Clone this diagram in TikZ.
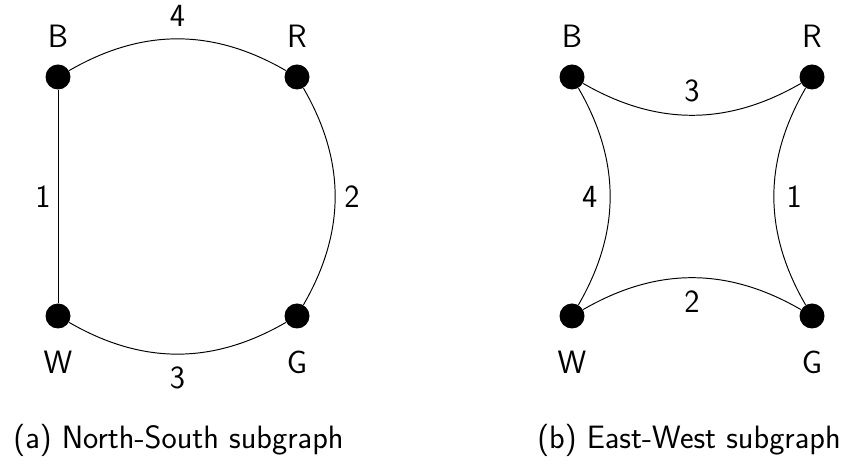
\documentclass[tikz,border=0pt]{standalone}
\usepackage{tikz}
\usetikzlibrary{positioning}
\tikzset{
  vert/.style={circle, fill=black, minimum size=0.5cm, inner sep=0pt},
  vname/.style={font=\sffamily\fontsize{18.4}{22}\selectfont},
  wlab/.style={font=\sffamily\fontsize{18.4}{22}\selectfont, inner sep=7pt},
  capt/.style={font=\sffamily\fontsize{18.4}{22}\selectfont}
}

\begin{document}
\begin{tikzpicture}[line width=0.55pt]
  \useasboundingbox (0,0) rectangle (17,9.24);
  % (a) north-south
  \node[vert] (aB) at (1.16,7.70) {};
  \node[vert] (aR) at (5.94,7.70) {};
  \node[vert] (aW) at (1.16,2.92) {};
  \node[vert] (aG) at (5.94,2.92) {};
  \node[vname, above=0.2cm of aB] (aBn) {B};
  \node[vname, above=0.2cm of aR] (aRn) {R};
  \node[vname, below=0.32cm of aW] (aWn) {W};
  \node[vname, below=0.32cm of aG] (aGn) {G};
  \draw (aB) to[bend left] node[wlab, above] (a4) {4} (aR);
  \draw (aB) -- node[wlab, left, inner sep=4pt] (a1) {1} (aW);
  \draw (aR) to[bend left] node[wlab, right, inner sep=5pt] (a2) {2} (aG);
  \draw (aW) to[bend right] node[wlab, below] (a3) {3} (aG);
  \node[capt] (acap) at (3.57,0.44) {(a) North-South subgraph};
  % (b) east-west
  \node[vert] (bB) at (11.44,7.70) {};
  \node[vert] (bR) at (16.24,7.70) {};
  \node[vert] (bW) at (11.44,2.92) {};
  \node[vert] (bG) at (16.24,2.92) {};
  \node[vname, above=0.2cm of bB] (bBn) {B};
  \node[vname, above=0.2cm of bR] (bRn) {R};
  \node[vname, below=0.32cm of bW] (bWn) {W};
  \node[vname, below=0.32cm of bG] (bGn) {G};
  \draw (bB) to[bend right] node[wlab, above] (b3) {3} (bR);
  \draw (bB) to[bend left] node[wlab, left] (b4) {4} (bW);
  \draw (bR) to[bend right] node[wlab, right] (b1) {1} (bG);
  \draw (bW) to[bend left] node[wlab, below] (b2) {2} (bG);
  \node[capt] (bcap) at (13.78,0.44) {(b) East-West subgraph};
\end{tikzpicture}
\end{document}
